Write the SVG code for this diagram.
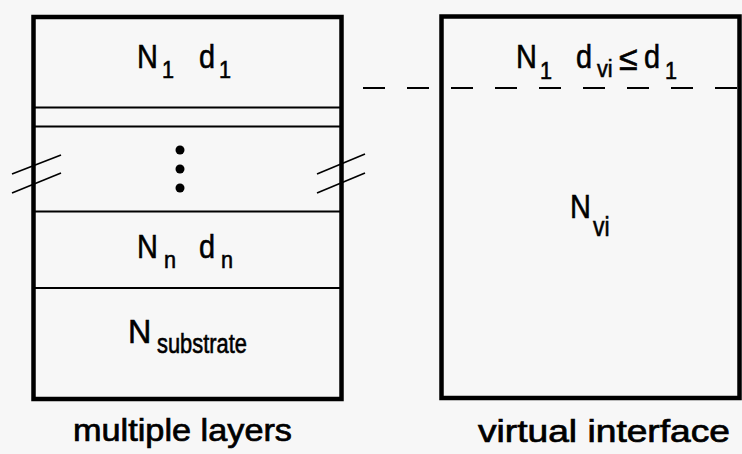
<svg xmlns="http://www.w3.org/2000/svg" width="742" height="454" viewBox="0 0 742 454">
<style>
.box{fill:none;stroke:#000;stroke-width:4.5}
.ln{stroke:#000;stroke-width:2;fill:none}
.sl{stroke:#000;stroke-width:1.6;fill:none}
.dash{stroke:#000;stroke-width:2.2;stroke-dasharray:22 22;fill:none}
text{font-family:"Liberation Sans",Arial,sans-serif;fill:#000;stroke:#000;stroke-width:0.6}
.m{font-size:34px}
.s{font-size:24px}
.cap{font-size:31px;stroke-width:0.7}
</style>
<rect width="742" height="454" fill="#f7f7f7"/>
<g id="multiple-layers">
  <rect class="box" x="33.5" y="17" width="308" height="382"/>
  <line class="ln" x1="33" y1="107.5" x2="342" y2="107.5"/>
  <line class="ln" x1="33" y1="126.5" x2="342" y2="126.5"/>
  <line class="ln" x1="33" y1="211.5" x2="342" y2="211.5"/>
  <line class="ln" x1="33" y1="288" x2="342" y2="288"/>
  <text class="m" transform="translate(137,68) scale(0.85,1)">N</text>
  <text class="s" transform="translate(162,78) scale(0.9,1)">1</text>
  <text class="m" transform="translate(199,68) scale(0.85,1)">d</text>
  <text class="s" transform="translate(219,78) scale(0.9,1)">1</text>
  <circle cx="180" cy="150" r="4.5"/>
  <circle cx="180" cy="169" r="4.5"/>
  <circle cx="180" cy="188" r="4.5"/>
  <text class="m" transform="translate(137,258) scale(0.85,1)">N</text>
  <text class="s" transform="translate(164,268) scale(0.9,1)">n</text>
  <text class="m" transform="translate(199,258) scale(0.85,1)">d</text>
  <text class="s" transform="translate(221,268) scale(0.9,1)">n</text>
  <text class="m" transform="translate(128,343) scale(0.95,1)">N</text>
  <text transform="translate(157,353) scale(0.81,1)" font-size="27">substrate</text>
  <text class="cap" x="73" y="441" textLength="219" lengthAdjust="spacingAndGlyphs">multiple layers</text>
</g>
<g id="virtual-interface">
  <rect class="box" x="441.5" y="16.5" width="298" height="381.5"/>
  <text class="m" transform="translate(516,68) scale(0.85,1)">N</text>
  <text class="s" transform="translate(540,79) scale(0.9,1)">1</text>
  <text class="m" transform="translate(576,68) scale(0.85,1)">d</text>
  <text class="s" transform="translate(597,77) scale(0.9,1)">vi</text>
  <text class="m" transform="translate(619,70)">≤</text>
  <text class="m" transform="translate(644,68) scale(0.85,1)">d</text>
  <text class="s" transform="translate(665,79) scale(0.9,1)">1</text>
  <text class="m" transform="translate(570,218) scale(0.85,1)">N</text>
  <text transform="translate(593,236) scale(0.85,1)" font-size="27">vi</text>
  <text class="cap" x="478" y="442" textLength="252" lengthAdjust="spacingAndGlyphs">virtual interface</text>
</g>
<g id="connectors">
  <line class="dash" x1="363" y1="88" x2="742" y2="88"/>
  <line class="sl" x1="12" y1="174" x2="61" y2="155"/>
  <line class="sl" x1="12" y1="193" x2="61" y2="173"/>
  <line class="sl" x1="317" y1="174" x2="365" y2="154"/>
  <line class="sl" x1="317" y1="193" x2="365" y2="173"/>
</g>
</svg>
